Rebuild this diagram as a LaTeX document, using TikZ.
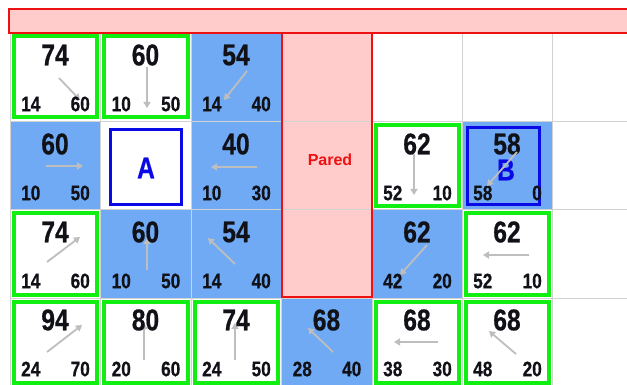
\documentclass[tikz,border=0pt]{standalone}
\usepackage{fontspec}
\usetikzlibrary{arrows.meta}
\newfontfamily\numfont[FakeStretch=0.82,FakeBold=0.6]{Liberation Sans}
\newfontfamily\lblfont{Liberation Sans}
\definecolor{cellblue}{HTML}{70AAF4}
\definecolor{wallpink}{HTML}{FFCBCB}
\definecolor{wallred}{HTML}{EE1111}
\definecolor{okgreen}{HTML}{11EE11}
\definecolor{boxblue}{HTML}{0A0AE6}
\definecolor{gridgrey}{HTML}{D2D2D2}
\definecolor{arrowgrey}{HTML}{BEBEBE}
\definecolor{ink}{HTML}{111118}
\tikzset{
  bignum/.style={inner sep=0pt, text=ink, font=\numfont\bfseries\fontsize{30}{30}\selectfont},
  smallnum/.style={inner sep=0pt, text=ink, font=\numfont\bfseries\fontsize{21}{21}\selectfont},
  letter/.style={inner sep=0pt, text=boxblue, font=\numfont\bfseries\fontsize{30}{30}\selectfont},
  walltext/.style={inner sep=0pt, text=wallred, font=\lblfont\bfseries\fontsize{16}{16}\selectfont},
  bluefill/.style={fill=cellblue, draw=none},
  greenbox/.style={draw=okgreen, line width=4pt},
  bluebox/.style={draw=boxblue, line width=3pt},
  gridline/.style={draw=gridgrey, line width=1pt},
  parentarrow/.style={draw=arrowgrey, line width=1.8pt, -{Triangle[length=6pt,width=7pt]}},
}
% #1 name, #2 left, #3 top, #4 f, #5 g, #6 h
\newcommand\cellnums[6]{%
  \node[bignum] (#1-f) at (#2+45, #3+22) {#4};
  \node[smallnum, anchor=west] (#1-g) at (#2+11, #3+71) {#5};
  \node[smallnum, anchor=east] (#1-h) at (#2+80, #3+71) {#6};
}
% #1 name, #2 start, #3 end
\newcommand\cellarrow[3]{%
  \coordinate (#1-s) at (#2);
  \coordinate (#1-e) at (#3);
  \draw[parentarrow] (#1-s) -- (#1-e);
}
\newcommand\greencell[2]{\draw[greenbox] (#1+3.5, #2+3.5) rectangle (#1+87, #2+84.5);}
\newcommand\bluecell[2]{\fill[bluefill] (#1, #2) rectangle (#1+90.5, #2+88);}
\begin{document}
\begin{tikzpicture}[x=1pt, y=-1pt]
\useasboundingbox (0,0) rectangle (627,385);
\fill[white] (0,0) rectangle (627,385);
% blue cells
\bluecell{191}{33}
\bluecell{10}{122}
\bluecell{191}{122}
\bluecell{462}{122}
\bluecell{100.5}{210}
\bluecell{191}{210}
\bluecell{372}{210}
\bluecell{281.5}{298}
% wall
\fill[wallpink] (281.5,33) rectangle (372,297);
% grid lines
\foreach \yy in {122,210,298} {\draw[gridline] (10,\yy) -- (627,\yy);}
\foreach \xx in {10,100.5,191,281.5,372,462,552} {\draw[gridline] (\xx,33) -- (\xx,385);}
% wall border
\draw[wallred, line width=2pt] (282,33) -- (282,297) -- (372,297) -- (372,33);
% top bar
\draw[fill=wallpink, draw=wallred, line width=2.5pt] (9,9) rectangle (640,33);
% green boxes
\greencell{10}{33}
\greencell{100.5}{33}
\greencell{372}{122}
\greencell{10}{210}
\greencell{462}{210}
\greencell{10}{298}
\greencell{100.5}{298}
\greencell{191}{298}
\greencell{372}{298}
\greencell{462}{298}
% start / goal boxes
\draw[bluebox] (110.5,129.5) rectangle (181.5,204.5);
\draw[bluebox] (467.5,127.5) rectangle (539.5,204.5);
\node[letter] (A) at (146,168) {A};
\node[letter] (B) at (506,170) {B};
\node[walltext] (pared) at (330,160) {Pared};
% arrows to parents
\cellarrow{r1c1}{59,78}{80,100}
\cellarrow{r1c2}{147,67}{147,108}
\cellarrow{r1c3}{247,71}{224,100}
\cellarrow{r2c1}{46,166}{83,166}
\cellarrow{r2c3}{257,167}{211,167}
\cellarrow{r2c5}{414,154}{414,195}
\cellarrow{r3c1}{47,262}{80,237}
\cellarrow{r3c2}{147,270}{147,238}
\cellarrow{r3c3}{235,264}{208,238}
\cellarrow{r3c5}{427,245}{400,275}
\cellarrow{r3c6}{529,255}{483,255}
\cellarrow{r4c1}{47,352}{82,325}
\cellarrow{r4c2}{144,360}{144,323}
\cellarrow{r4c3}{235,360}{235,323}
\cellarrow{r4c4}{333,352}{308,328}
\cellarrow{r4c5}{438,342}{394,342}
\cellarrow{r4c6}{516,354}{489,331}
% numbers
\cellnums{n11}{10}{33}{74}{14}{60}
\cellnums{n12}{100.5}{33}{60}{10}{50}
\cellnums{n13}{191}{33}{54}{14}{40}
\cellnums{n21}{10}{122}{60}{10}{50}
\cellnums{n23}{191}{122}{40}{10}{30}
\cellnums{n25}{372}{122}{62}{52}{10}
\cellnums{n26}{462}{122}{58}{58}{0}
\cellnums{n31}{10}{210}{74}{14}{60}
\cellnums{n32}{100.5}{210}{60}{10}{50}
\cellnums{n33}{191}{210}{54}{14}{40}
\cellnums{n35}{372}{210}{62}{42}{20}
\cellnums{n36}{462}{210}{62}{52}{10}
\cellnums{n41}{10}{298}{94}{24}{70}
\cellnums{n42}{100.5}{298}{80}{20}{60}
\cellnums{n43}{191}{298}{74}{24}{50}
\cellnums{n44}{281.5}{298}{68}{28}{40}
\cellnums{n45}{372}{298}{68}{38}{30}
\cellnums{n46}{462}{298}{68}{48}{20}
% goal cell arrow drawn over its text
\cellarrow{r2c6}{517,152}{487,186}
\end{tikzpicture}
\end{document}
